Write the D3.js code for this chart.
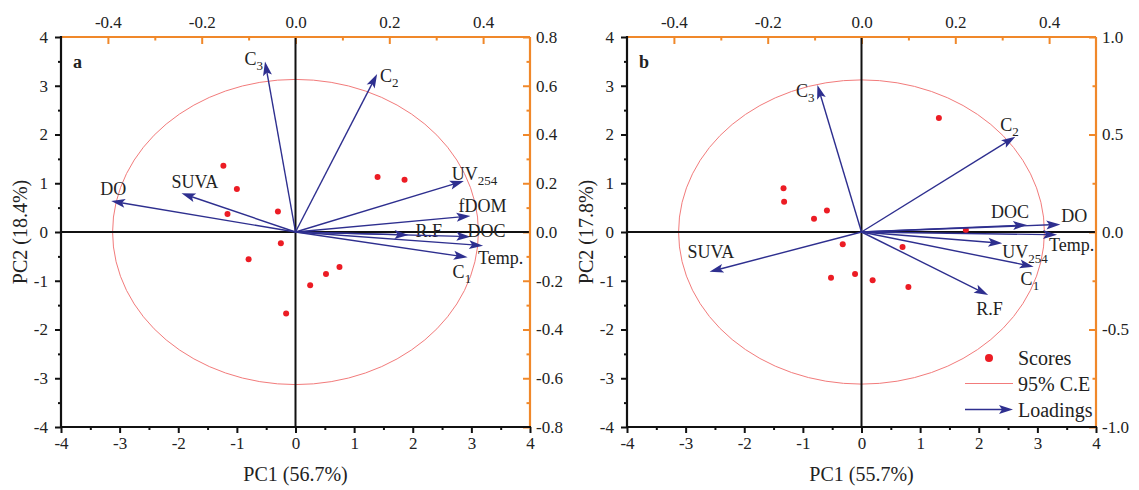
<!DOCTYPE html>
<html>
<head>
<meta charset="utf-8">
<script src="https://cdn.jsdelivr.net/npm/d3@7"></script>
<style>
  html, body { margin: 0; padding: 0; background: #fff; }
  svg { display: block; font-family: "Liberation Serif", "Times New Roman", serif; }
</style>
</head>
<body>
<svg id="chart" width="1139" height="490"></svg>
<script>
// ---------------- DATA ----------------
// Panel a
const scoresA_pc1 = [-1.23, -1.00, -1.16, -0.30, -0.25, -0.80, -0.16, 1.40, 1.86, 0.25, 0.52, 0.75];
const scoresA_pc2 = [1.36, 0.88, 0.37, 0.42, -0.23, -0.56, -1.67, 1.13, 1.07, -1.09, -0.86, -0.72];
const loadingNamesA = ["C3", "C2", "DO", "SUVA", "UV254", "fDOM", "R.F", "DOC", "Temp.", "C1"];
const loadingsA_pc1 = [-0.065, 0.174, -0.393, -0.243, 0.359, 0.373, 0.241, 0.373, 0.400, 0.367];
const loadingsA_pc2 = [0.699, 0.648, 0.127, 0.159, 0.209, 0.066, -0.012, -0.019, -0.056, -0.104];
const ellipseA = [3.12, 3.13];
const titleA = ["PC1 (56.7%)", "PC2 (18.4%)"];

// Panel b
const scoresB_pc1 = [-1.33, -1.32, -0.81, -0.59, -0.32, -0.52, -0.11, 1.32, 1.78, 0.70, 0.19, 0.80];
const scoresB_pc2 = [0.90, 0.62, 0.27, 0.44, -0.25, -0.94, -0.86, 2.34, 0.04, -0.31, -0.99, -1.13];
const loadingNamesB = ["C3", "C2", "DOC", "DO", "Temp.", "UV254", "C1", "R.F", "SUVA"];
const loadingsB_pc1 = [-0.094, 0.328, 0.353, 0.424, 0.417, 0.300, 0.367, 0.270, -0.324];
const loadingsB_pc2 = [0.754, 0.489, 0.036, 0.039, -0.014, -0.058, -0.178, -0.323, -0.204];
const ellipseB = [3.12, 3.12];
const titleB = ["PC1 (55.7%)", "PC2 (17.8%)"];

// Tick values
const scoreTicks = [-4, -3, -2, -1, 0, 1, 2, 3, 4];
const topTicks = [-0.4, -0.2, 0.0, 0.2, 0.4];
const rightTicksA = [-0.8, -0.6, -0.4, -0.2, 0.0, 0.2, 0.4, 0.6, 0.8];
const rightTicksB = [-1.0, -0.5, 0.0, 0.5, 1.0];
const legendLabels = ["Scores", "95% C.E", "Loadings"];

// ---------------- LAYOUT / STYLE ----------------
const ORANGE = "#f0882a";
const ARROW = "#2e2f8f";
const RED = "#ec1c24";
const ELL = "#f27b7b";

// label placement relative to arrow tip: [dx, dy, anchor]
const labelPlaceA = {
  "C3": [-2, 3, "end"], "C2": [3, 8, "start"], "DO": [-11, -6, "start"],
  "SUVA": [-10, -5, "start"], "UV254": [-12, -1, "start"], "fDOM": [-12, -4, "start"],
  "R.F": [7, 2, "start"], "DOC": [-3, 0, "start"], "Temp.": [-5, 18, "start"], "C1": [-15, 21, "start"]
};
const labelPlaceB = {
  "C3": [-3, 12, "end"], "C2": [-15, -6, "start"], "DOC": [2, -7, "end"], "DO": [1, -2, "start"],
  "Temp.": [-8, 16, "start"], "UV254": [0, 15, "start"], "C1": [-13, 18, "start"],
  "R.F": [-12, 20, "start"], "SUVA": [-22, -14, "start"]
};

const svg = d3.select("#chart");

function addLabel(sel, name) {
  const m = name.match(/^([A-Za-z]+)(\d+)$/);
  if (m && (m[1] === "C" || m[1] === "UV")) {
    sel.append("tspan").text(m[1]);
    sel.append("tspan").attr("font-size", "13px").attr("dy", 5).text(m[2]);
  } else {
    sel.text(name);
  }
}

function arrowPath(x0, y0, x1, y1, L = 14, W = 4.5) {
  const dx = x1 - x0, dy = y1 - y0, len = Math.hypot(dx, dy);
  const ux = dx / len, uy = dy / len;
  const bx = x1 - ux * L, by = y1 - uy * L;
  const nx = -uy, ny = ux;
  return `M${x1},${y1}L${bx + nx * W},${by + ny * W}L${x1 - ux * (L - 3)},${y1 - uy * (L - 3)}L${bx - nx * W},${by - ny * W}Z`;
}

function panel(cfg) {
  const { L, R, T, B } = cfg;
  const g = svg.append("g");
  const x = d3.scaleLinear().domain([-4, 4]).range([L, R]);
  const y = d3.scaleLinear().domain([-4, 4]).range([B, T]);
  const lx = d3.scaleLinear().domain([-0.5, 0.5]).range([L, R]);
  const ly = d3.scaleLinear().domain(cfg.rightDomain).range([B, T]);

  const fmtInt = d => String(d);
  const fmt1 = d => d.toFixed(1).replace("-0.0", "0.0");

  const minorScore = d3.range(-3.5, 4, 1);

  // bottom axis
  const bot = g.append("g").attr("transform", `translate(0,${B})`);
  bot.call(d3.axisBottom(x).tickValues(scoreTicks).tickFormat(fmtInt).tickSize(6).tickSizeOuter(0).tickPadding(4));
  bot.append("g").call(d3.axisBottom(x).tickValues(minorScore).tickFormat("").tickSize(3).tickSizeOuter(0));
  // left axis
  const left = g.append("g").attr("transform", `translate(${L},0)`);
  left.call(d3.axisLeft(y).tickValues(scoreTicks).tickFormat(fmtInt).tickSize(6).tickSizeOuter(0).tickPadding(7));
  left.append("g").call(d3.axisLeft(y).tickValues(minorScore).tickFormat("").tickSize(3).tickSizeOuter(0));
  // top axis (orange, inward ticks)
  const top = g.append("g").attr("transform", `translate(0,${T})`).attr("class", "orange");
  top.call(d3.axisTop(lx).tickValues(topTicks).tickFormat(fmt1).tickSize(-7).tickSizeOuter(0).tickPadding(9));
  top.append("g").call(d3.axisTop(lx).tickValues([-0.3, -0.1, 0.1, 0.3]).tickFormat("").tickSize(-3.5).tickSizeOuter(0));
  // right axis (orange, inward ticks)
  const right = g.append("g").attr("transform", `translate(${R},0)`).attr("class", "orange");
  right.call(d3.axisRight(ly).tickValues(cfg.rightTicks).tickFormat(fmt1).tickSize(-7).tickSizeOuter(0).tickPadding(6));
  right.append("g").call(d3.axisRight(ly).tickValues(cfg.rightMinor).tickFormat("").tickSize(-3.5).tickSizeOuter(0));

  g.selectAll(".domain").remove();
  g.selectAll(".tick text").attr("font-size", "17px").attr("font-family", "Liberation Serif").attr("fill", "#222");
  g.selectAll(".tick line").attr("stroke", "#111").attr("stroke-width", 2);
  g.selectAll(".orange .tick line").attr("stroke", ORANGE);

  // ellipse
  g.append("ellipse")
    .attr("cx", x(0)).attr("cy", y(0))
    .attr("rx", x(cfg.ellipse[0]) - x(0)).attr("ry", y(0) - y(cfg.ellipse[1]))
    .attr("fill", "none").attr("stroke", ELL).attr("stroke-width", 1);

  // zero lines
  g.append("line").attr("x1", L).attr("x2", R).attr("y1", y(0)).attr("y2", y(0)).attr("stroke", "#111").attr("stroke-width", 2);
  g.append("line").attr("x1", x(0)).attr("x2", x(0)).attr("y1", T).attr("y2", B).attr("stroke", "#111").attr("stroke-width", 2);

  // scores
  g.selectAll("circle.score").data(cfg.sx.map((v, i) => [v, cfg.sy[i]])).join("circle")
    .attr("class", "score").attr("cx", d => x(d[0])).attr("cy", d => y(d[1])).attr("r", 3).attr("fill", RED);

  // loadings arrows
  const ld = cfg.names.map((n, i) => ({ n, px: cfg.lx[i], py: cfg.ly[i] }));
  ld.forEach(d => {
    const x0 = lx(0), y0 = ly(0), x1 = lx(d.px), y1 = ly(d.py);
    const len = Math.hypot(x1 - x0, y1 - y0);
    const ux = (x1 - x0) / len, uy = (y1 - y0) / len;
    g.append("line").attr("x1", x0).attr("y1", y0).attr("x2", x1 - ux * 10).attr("y2", y1 - uy * 10)
      .attr("stroke", ARROW).attr("stroke-width", 1.4);
    g.append("path").attr("d", arrowPath(x0, y0, x1, y1)).attr("fill", ARROW);
    const p = cfg.place[d.n];
    const t = g.append("text").attr("x", x1 + p[0]).attr("y", y1 + p[1]).attr("text-anchor", p[2])
      .attr("font-size", "18px").attr("fill", "#222");
    addLabel(t, d.n);
  });

  // frame
  g.append("line").attr("x1", L).attr("x2", R).attr("y1", T).attr("y2", T).attr("stroke", ORANGE).attr("stroke-width", 2.2);
  g.append("line").attr("x1", R).attr("x2", R).attr("y1", T).attr("y2", B).attr("stroke", ORANGE).attr("stroke-width", 2.2);
  g.append("line").attr("x1", L).attr("x2", R + 1).attr("y1", B).attr("y2", B).attr("stroke", "#111").attr("stroke-width", 2.2);
  g.append("line").attr("x1", L).attr("x2", L).attr("y1", T - 1).attr("y2", B + 1).attr("stroke", "#111").attr("stroke-width", 2.2);

  // panel letter
  g.append("text").attr("x", L + 12).attr("y", T + 31).attr("font-size", "18px").attr("font-weight", "bold")
    .attr("fill", "#222").text(cfg.letter);

  // axis titles
  g.append("text").attr("x", (L + R) / 2).attr("y", 481).attr("text-anchor", "middle").attr("font-size", "20px")
    .attr("fill", "#222").text(cfg.titles[0]);
  g.append("text").attr("transform", `translate(${L - 34},${(T + B) / 2}) rotate(-90)`).attr("text-anchor", "middle")
    .attr("font-size", "20px").attr("fill", "#222").text(cfg.titles[1]);

  return { g, x, y, lx, ly };
}

panel({
  L: 61, R: 530, T: 37, B: 427, rightDomain: [-0.8, 0.8], rightTicks: rightTicksA,
  rightMinor: [-0.7, -0.5, -0.3, -0.1, 0.1, 0.3, 0.5, 0.7],
  ellipse: ellipseA, sx: scoresA_pc1, sy: scoresA_pc2,
  names: loadingNamesA, lx: loadingsA_pc1, ly: loadingsA_pc2, place: labelPlaceA,
  letter: "a", titles: titleA
});

const pb = panel({
  L: 627, R: 1096, T: 37, B: 427, rightDomain: [-1, 1], rightTicks: rightTicksB,
  rightMinor: [-0.75, -0.25, 0.25, 0.75],
  ellipse: ellipseB, sx: scoresB_pc1, sy: scoresB_pc2,
  names: loadingNamesB, lx: loadingsB_pc1, ly: loadingsB_pc2, place: labelPlaceB,
  letter: "b", titles: titleB
});

// legend (panel b)
const lg = svg.append("g");
const lgX = 965, lgY = [358, 383.5, 409.5];
lg.append("circle").attr("cx", lgX + 24).attr("cy", lgY[0]).attr("r", 4).attr("fill", RED);
lg.append("line").attr("x1", lgX).attr("x2", lgX + 48).attr("y1", lgY[1]).attr("y2", lgY[1]).attr("stroke", ELL).attr("stroke-width", 1);
lg.append("line").attr("x1", lgX).attr("x2", lgX + 38).attr("y1", lgY[2]).attr("y2", lgY[2]).attr("stroke", ARROW).attr("stroke-width", 1.4);
lg.append("path").attr("d", arrowPath(lgX, lgY[2], lgX + 48, lgY[2])).attr("fill", ARROW);
lg.selectAll("text").data(legendLabels).join("text")
  .attr("x", lgX + 53).attr("y", (d, i) => lgY[i] + 7).attr("font-size", "20px").attr("fill", "#222").text(d => d);
</script>
</body>
</html>
